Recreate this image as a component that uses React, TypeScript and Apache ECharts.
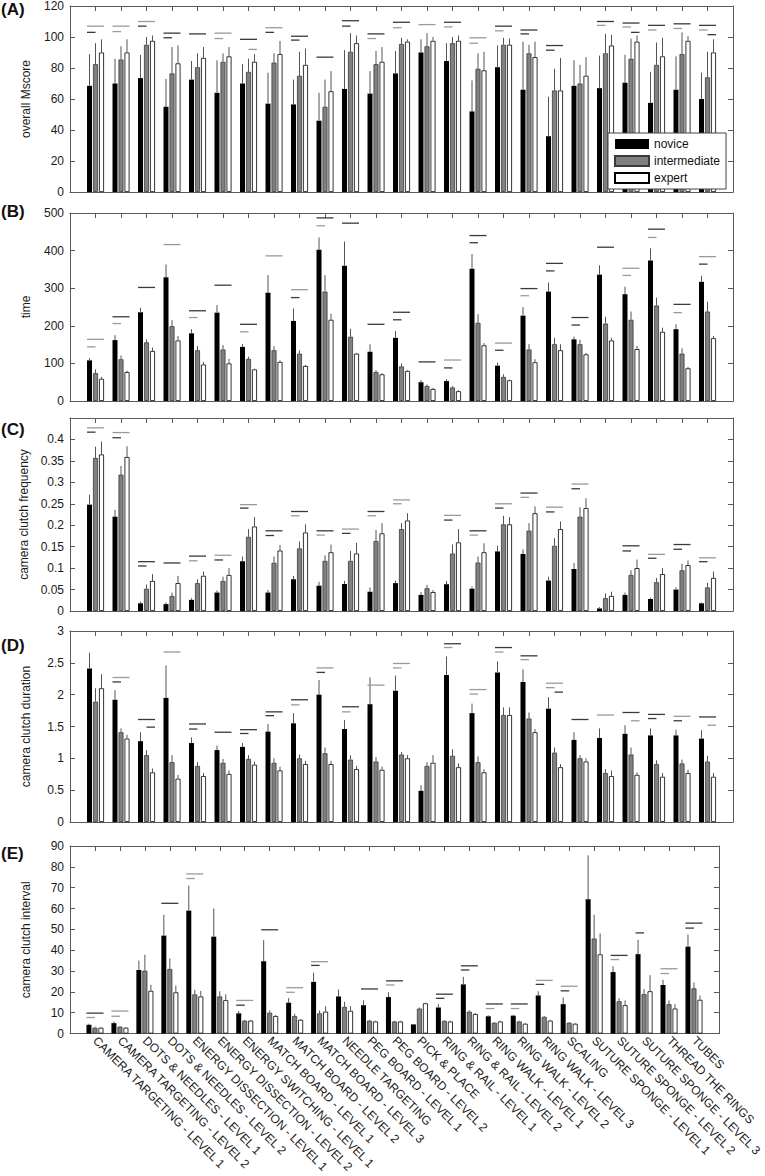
import React, { useEffect, useRef } from 'react';
import * as echarts from 'echarts';

const categories = [
  'CAMERA TARGETING - LEVEL 1', 'CAMERA TARGETING - LEVEL 2', 'DOTS & NEEDLES - LEVEL 1', 'DOTS & NEEDLES - LEVEL 2',
  'ENERGY DISSECTION - LEVEL 1', 'ENERGY DISSECTION - LEVEL 2', 'ENERGY SWITCHING - LEVEL 1', 'MATCH BOARD - LEVEL 1',
  'MATCH BOARD - LEVEL 2', 'MATCH BOARD - LEVEL 3', 'NEEDLE TARGETING', 'PEG BOARD - LEVEL 1', 'PEG BOARD - LEVEL 2',
  'PICK & PLACE', 'RING & RAIL - LEVEL 1', 'RING & RAIL - LEVEL 2', 'RING WALK - LEVEL 1', 'RING WALK - LEVEL 2',
  'RING WALK - LEVEL 3', 'SCALING', 'SUTURE SPONGE - LEVEL 1', 'SUTURE SPONGE - LEVEL 2', 'SUTURE SPONGE - LEVEL 3',
  'THREAD THE RINGS', 'TUBES',
];
const seriesNames = ['novice', 'intermediate', 'expert'];

// (A) overall Mscore
const A_N = [68.5, 70, 73.5, 55, 72.5, 64, 70, 57, 56.5, 46, 66.5, 63.5, 76.5, 90, 84.5, 52, 80.5, 66, 36, 68.5, 67, 70.5, 57.5, 66, 60];
const A_Ne = [89, 86, 88.5, 73, 84.5, 85, 82.5, 77, 72.5, 64, 91.5, 78, 91, 98.5, 96, 72, 94.5, 97, 61.5, 85, 88, 88.5, 77.5, 87.5, 77];
const A_I = [82.5, 85.5, 95, 76.5, 80.5, 84, 77.5, 83.5, 75, 55, 90.5, 82.5, 95.5, 94, 96, 79.5, 95, 89.5, 65.5, 70, 89.5, 86, 82, 89, 74];
const A_Ie = [96, 94, 100, 93.5, 89.5, 89.5, 86, 89.5, 90.5, 72.5, 102.5, 91, 99.5, 102.5, 100, 89.5, 99.5, 95, 79.5, 82, 102, 99, 96.5, 103, 90.5];
const A_E = [90, 90, 97.5, 83, 86.5, 87.5, 84, 89, 82, 65, 96, 84, 97, 97.5, 97.5, 78.5, 95, 87, 65.5, 75, 94.5, 97, 87.5, 97.5, 90];
const A_Ee = [98.5, 98.5, 101, 94.5, 93.5, 93.5, 89, 97.5, 92.5, 78, 101, 93.5, 98.5, 100, 101, 90.5, 99, 97, 86.5, 87, 101.5, 101, 99.5, 100.5, 98.5];
// significance bars: [category (1-based), y, kind (0 all, 1 novice-intermediate, 2 intermediate-expert), dark]
const A_SIG = [
  [1, 107, 0, 0], [1, 103, 1, 1], [2, 107, 0, 0], [2, 103.5, 1, 0], [3, 110, 0, 0], [3, 107, 1, 1],
  [4, 102.5, 0, 1], [4, 99.5, 1, 1], [5, 102, 0, 1], [6, 102.5, 0, 0], [6, 99, 1, 0], [7, 98.5, 0, 1], [7, 92, 2, 0],
  [8, 106, 0, 0], [8, 103, 1, 1], [9, 100.5, 0, 1], [9, 98, 1, 1], [10, 87, 0, 1], [11, 110.5, 0, 1], [11, 107, 1, 1],
  [12, 102, 0, 1], [12, 99, 1, 0], [13, 109.5, 0, 1], [13, 106, 1, 0], [14, 108, 0, 0], [15, 109.5, 0, 1], [15, 106.5, 1, 0],
  [16, 99.5, 0, 0], [16, 96, 1, 0], [17, 107, 0, 1], [17, 104, 1, 0], [18, 104.5, 0, 1], [18, 102, 1, 1],
  [19, 94.5, 0, 1], [19, 91.5, 1, 1], [21, 110, 0, 1], [21, 107.5, 1, 0], [22, 109, 0, 1], [22, 106.5, 1, 0], [22, 103, 2, 1],
  [23, 107.5, 0, 1], [23, 104.5, 1, 0], [24, 108.5, 0, 1], [24, 105.5, 1, 0], [25, 107.5, 0, 1], [25, 104.5, 1, 0], [25, 101.5, 2, 1],
];

// (B) time
const B_N = [108, 162, 236, 329, 180, 235, 144, 288, 213, 402, 360, 131, 168, 50, 53, 352, 94, 227, 291, 164, 336, 284, 374, 191, 317];
const B_Ne = [114, 175, 248, 363, 191, 255, 152, 335, 246, 435, 424, 151, 186, 56, 58, 391, 102, 250, 315, 171, 361, 304, 406, 204, 333];
const B_I = [74, 111, 156, 199, 135, 137, 112, 135, 126, 291, 171, 77, 92, 40, 36, 208, 64, 137, 151, 151, 206, 216, 254, 126, 238];
const B_Ie = [84, 121, 164, 215, 146, 149, 118, 146, 135, 335, 192, 82, 100, 44, 40, 231, 71, 151, 168, 163, 224, 238, 275, 140, 264];
const B_E = [59, 77, 133, 161, 97, 100, 84, 104, 93, 216, 126, 71, 80, 32, 26, 148, 55, 103, 135, 124, 161, 138, 184, 87, 167];
const B_Ee = [64, 81, 142, 173, 104, 112, 86, 108, 96, 232, 128, 74, 82, 35, 29, 154, 57, 111, 151, 128, 168, 146, 195, 91, 173];
const B_SIG = [
  [1, 164, 0, 0], [1, 144, 1, 0], [2, 224, 0, 1], [2, 206, 1, 0], [3, 302, 0, 1], [4, 416, 0, 0], [5, 240, 0, 1], [5, 222, 1, 0],
  [6, 308, 0, 1], [7, 204, 0, 1], [7, 184, 1, 0], [8, 386, 0, 0], [9, 296, 0, 0], [9, 275, 1, 1], [10, 487, 0, 1], [10, 466, 1, 0],
  [11, 473, 0, 1], [12, 204, 0, 1], [13, 236, 0, 1], [13, 216, 1, 1], [14, 104, 0, 1], [15, 109, 0, 0], [15, 88, 1, 1],
  [16, 440, 0, 1], [16, 421, 1, 1], [17, 154, 0, 0], [17, 135, 1, 1], [18, 299, 0, 1], [18, 280, 1, 0], [19, 366, 0, 1], [19, 346, 1, 1],
  [20, 222, 0, 1], [20, 202, 1, 1], [21, 409, 0, 1], [22, 353, 0, 0], [22, 334, 1, 0], [23, 457, 0, 1], [23, 435, 1, 0],
  [24, 257, 0, 1], [24, 235, 1, 0], [25, 384, 0, 0], [25, 364, 1, 1],
];

// (C) camera clutch frequency
const C_N = [0.248, 0.22, 0.018, 0.016, 0.026, 0.043, 0.116, 0.043, 0.074, 0.059, 0.063, 0.045, 0.065, 0.0375, 0.0625, 0.052, 0.139, 0.133, 0.071, 0.098, 0.006, 0.0375, 0.028, 0.05, 0.018];
const C_Ne = [0.271, 0.236, 0.022, 0.02, 0.03, 0.048, 0.127, 0.049, 0.082, 0.068, 0.07, 0.055, 0.071, 0.044, 0.07, 0.057, 0.152, 0.144, 0.08, 0.112, 0.009, 0.043, 0.031, 0.055, 0.02];
const C_I = [0.357, 0.318, 0.052, 0.035, 0.065, 0.07, 0.173, 0.1125, 0.146, 0.117, 0.117, 0.163, 0.191, 0.053, 0.134, 0.113, 0.202, 0.1875, 0.152, 0.22, 0.03, 0.084, 0.067, 0.095, 0.055];
const C_Ie = [0.383, 0.338, 0.062, 0.043, 0.074, 0.08, 0.191, 0.127, 0.162, 0.13, 0.14, 0.189, 0.205, 0.061, 0.155, 0.127, 0.222, 0.205, 0.17, 0.242, 0.041, 0.095, 0.077, 0.11, 0.066];
const C_E = [0.365, 0.359, 0.07, 0.065, 0.082, 0.084, 0.197, 0.141, 0.183, 0.137, 0.134, 0.181, 0.211, 0.044, 0.16, 0.137, 0.202, 0.228, 0.191, 0.24, 0.035, 0.1, 0.086, 0.107, 0.077];
const C_Ee = [0.395, 0.384, 0.086, 0.082, 0.092, 0.1, 0.219, 0.154, 0.202, 0.155, 0.159, 0.205, 0.228, 0.049, 0.191, 0.158, 0.219, 0.244, 0.209, 0.263, 0.045, 0.12, 0.1, 0.118, 0.092];
const C_SIG = [
  [1, 0.427, 0, 0], [1, 0.417, 1, 1], [2, 0.416, 0, 0], [2, 0.404, 1, 1], [3, 0.115, 0, 1], [3, 0.105, 1, 1], [4, 0.112, 0, 1],
  [5, 0.128, 0, 1], [5, 0.117, 1, 0], [6, 0.13, 0, 0], [6, 0.119, 1, 1], [7, 0.248, 0, 0], [7, 0.24, 1, 1],
  [8, 0.187, 0, 1], [8, 0.176, 1, 1], [9, 0.232, 0, 1], [9, 0.222, 1, 0], [10, 0.187, 0, 1], [10, 0.177, 1, 0],
  [11, 0.191, 0, 0], [11, 0.181, 1, 1], [12, 0.232, 0, 1], [12, 0.222, 1, 0], [13, 0.259, 0, 0], [13, 0.25, 1, 0],
  [15, 0.223, 0, 0], [15, 0.212, 1, 1], [16, 0.187, 0, 1], [16, 0.177, 1, 0], [17, 0.25, 0, 0], [17, 0.24, 1, 1],
  [18, 0.275, 0, 1], [18, 0.265, 1, 0], [19, 0.242, 0, 0], [19, 0.231, 1, 1], [20, 0.296, 0, 0], [20, 0.285, 1, 1],
  [22, 0.152, 0, 1], [22, 0.14, 1, 1], [23, 0.132, 0, 0], [23, 0.123, 1, 1], [24, 0.155, 0, 1], [24, 0.144, 1, 1],
  [25, 0.124, 0, 0], [25, 0.115, 1, 1],
];

// (D) camera clutch duration
const D_N = [2.41, 1.92, 1.27, 1.95, 1.24, 1.13, 1.18, 1.42, 1.55, 2.0, 1.46, 1.85, 2.06, 0.49, 2.31, 1.71, 2.35, 2.2, 1.78, 1.29, 1.32, 1.385, 1.36, 1.36, 1.31];
const D_Ne = [2.66, 2.07, 1.41, 2.46, 1.33, 1.2, 1.24, 1.54, 1.71, 2.23, 1.6, 2.27, 2.3, 0.58, 2.6, 1.86, 2.52, 2.4, 1.96, 1.41, 1.47, 1.52, 1.47, 1.45, 1.44];
const D_I = [1.89, 1.41, 1.05, 0.94, 0.88, 0.93, 0.99, 0.93, 1.0, 1.08, 0.98, 0.95, 1.06, 0.88, 1.04, 0.94, 1.68, 1.625, 1.09, 1.0, 0.77, 1.06, 0.91, 0.92, 0.95];
const D_Ie = [2.1, 1.47, 1.13, 1.05, 0.94, 0.99, 1.05, 1.0, 1.06, 1.17, 1.05, 1.02, 1.1, 0.94, 1.14, 1.03, 1.8, 1.72, 1.17, 1.05, 0.83, 1.17, 0.97, 0.98, 1.04];
const D_E = [2.1, 1.31, 0.78, 0.68, 0.72, 0.755, 0.9, 0.81, 0.91, 0.91, 0.83, 0.82, 1.0, 0.93, 0.86, 0.78, 1.68, 1.41, 0.86, 0.95, 0.72, 0.74, 0.71, 0.77, 0.71];
const D_Ee = [2.32, 1.37, 0.84, 0.74, 0.77, 0.81, 0.95, 0.87, 0.96, 0.96, 0.88, 0.87, 1.05, 1.05, 0.92, 0.83, 1.8, 1.46, 0.91, 1.0, 0.81, 0.78, 0.77, 0.82, 0.77];
const D_SIG = [
  [2, 2.27, 0, 0], [2, 2.2, 1, 1], [3, 1.61, 0, 1], [3, 1.49, 2, 1], [4, 2.67, 0, 0], [5, 1.54, 0, 1], [5, 1.46, 1, 1],
  [6, 1.41, 0, 1], [7, 1.45, 0, 1], [7, 1.39, 1, 1], [8, 1.73, 0, 1], [8, 1.67, 1, 1], [9, 1.92, 0, 1], [9, 1.84, 1, 0],
  [10, 2.42, 0, 0], [10, 2.35, 1, 1], [11, 1.81, 0, 1], [11, 1.73, 1, 0], [12, 2.15, 0, 0], [13, 2.49, 0, 0], [13, 2.42, 1, 0],
  [15, 2.8, 0, 1], [15, 2.74, 1, 0], [16, 2.08, 0, 0], [16, 2.01, 1, 0], [17, 2.74, 0, 1], [17, 2.67, 1, 0],
  [18, 2.61, 0, 1], [18, 2.55, 1, 0], [19, 2.18, 0, 0], [19, 2.11, 1, 0], [19, 2.04, 2, 1], [20, 1.61, 0, 1], [21, 1.68, 0, 0],
  [22, 1.72, 0, 1], [22, 1.59, 2, 0], [23, 1.69, 0, 1], [23, 1.625, 1, 1], [24, 1.66, 0, 0], [24, 1.59, 1, 1],
  [25, 1.65, 0, 1], [25, 1.52, 2, 0],
];

// (E) camera clutch interval
const E_N = [4.2, 5, 30.5, 47, 59, 46.5, 9.7, 34.7, 14.8, 24.8, 17.8, 13.6, 17.5, 4.4, 12.5, 23.6, 8.3, 8.6, 18.3, 14.1, 64.4, 29.5, 38.1, 23.3, 41.7];
const E_Ne = [4.7, 5.8, 35, 57, 71, 60, 10.8, 44.8, 17, 29.2, 21.1, 15.9, 19.8, 4.6, 14.1, 27.2, 8.8, 9, 20.3, 17.3, 85.5, 32.3, 45, 25.8, 47.5];
const E_I = [2.8, 3.3, 30.2, 31, 18.8, 17.8, 6.2, 10, 8.4, 9.7, 12.8, 6.2, 5.8, 12, 6.1, 10.5, 5.2, 5.8, 8, 5.2, 45.6, 15.5, 18.9, 14.1, 21.7];
const E_Ie = [3.3, 3.6, 37.8, 36, 21, 20.3, 6.6, 11.1, 9.5, 11.1, 15.2, 6.6, 6.2, 12.5, 6.4, 11.2, 5.5, 6.2, 8.5, 5.5, 57, 17, 21.4, 15.9, 24.5];
const E_E = [2.8, 2.8, 20.5, 19.8, 17.8, 16, 6.2, 8.4, 6.6, 10.5, 10.9, 5.8, 5.8, 14.5, 5.8, 9.4, 5.8, 4.7, 6.2, 4.7, 38, 13.6, 20.3, 12, 16.2];
const E_Ee = [3.1, 3.1, 23.4, 23, 20.5, 18.8, 6.6, 8.9, 7, 13.1, 13.1, 6.2, 6.2, 14.8, 6.2, 9.8, 6.2, 5.1, 6.6, 5.1, 48, 15.9, 28, 14.1, 18.3];
const E_SIG = [
  [1, 9.8, 0, 1], [1, 7.7, 1, 0], [2, 10.8, 0, 0], [2, 8.3, 1, 0], [4, 62.5, 0, 1], [5, 76.6, 0, 0], [5, 74.4, 1, 0],
  [7, 15.9, 0, 0], [7, 13.6, 1, 1], [8, 49.8, 0, 1], [9, 22, 0, 0], [9, 19.8, 1, 0], [10, 34.5, 0, 0], [10, 32.7, 1, 1],
  [12, 21.4, 0, 1], [13, 25.3, 0, 1], [13, 23.3, 1, 0], [15, 18.9, 0, 1], [15, 16.9, 1, 1], [16, 32.5, 0, 1], [16, 30.5, 1, 1],
  [17, 14.2, 0, 1], [17, 12, 1, 0], [18, 14.2, 0, 1], [18, 12, 1, 0], [19, 25.5, 0, 0], [19, 23.6, 1, 1],
  [20, 22.7, 0, 0], [20, 20.5, 1, 1], [22, 37.5, 0, 1], [22, 35.5, 1, 0], [23, 48.3, 1, 1], [24, 31.1, 0, 0], [24, 28.8, 1, 0],
  [25, 53, 0, 1], [25, 50.6, 1, 1],
];

const FONT = 'Liberation Sans, Arial, Helvetica, sans-serif';

const panels = [
  { letter: '(A)', name: 'overall Mscore', max: 120, interval: 20, top: 5, height: 187, letterTop: 1, vals: [A_N, A_I, A_E], errs: [A_Ne, A_Ie, A_Ee], sig: A_SIG },
  { letter: '(B)', name: 'time', max: 500, interval: 100, top: 213, height: 188, letterTop: 203, vals: [B_N, B_I, B_E], errs: [B_Ne, B_Ie, B_Ee], sig: B_SIG },
  { letter: '(C)', name: 'camera clutch frequency', max: 0.45, interval: 0.05, top: 418, height: 193, letterTop: 421, vals: [C_N, C_I, C_E], errs: [C_Ne, C_Ie, C_Ee], sig: C_SIG },
  { letter: '(D)', name: 'camera clutch duration', max: 3, interval: 0.5, top: 631, height: 191, letterTop: 637, vals: [D_N, D_I, D_E], errs: [D_Ne, D_Ie, D_Ee], sig: D_SIG },
  { letter: '(E)', name: 'camera clutch interval', max: 90, interval: 10, top: 846, height: 191, letterTop: 845, vals: [E_N, E_I, E_E], errs: [E_Ne, E_Ie, E_Ee], sig: E_SIG },
];

const barStyles = [
  { color: '#000000', borderColor: '#000000', borderWidth: 0 },
  { color: '#808080', borderColor: '#3a3a3a', borderWidth: 0.8 },
  { color: '#ffffff', borderColor: '#000000', borderWidth: 0.8 },
];

const AXIS_COLOR = '#5a5a5a';

function buildOption() {
  const cats = ['', ...categories, ''];
  const grid: any[] = [];
  const xAxis: any[] = [];
  const yAxis: any[] = [];
  const series: any[] = [];
  const graphic: any[] = [];

  panels.forEach((p, i) => {
    grid.push({ left: 70, right: 32, top: p.top, height: p.height });
    const isLast = i === panels.length - 1;
    const xBase = {
      type: 'category', gridIndex: i, data: cats, boundaryGap: false,
      axisLine: { show: true, onZero: false, lineStyle: { color: AXIS_COLOR, width: 1 } },
      axisTick: { show: true, inside: true, length: 5, interval: 0, lineStyle: { color: AXIS_COLOR } },
      splitLine: { show: false },
    };
    xAxis.push({
      ...xBase, position: 'bottom',
      axisLabel: {
        show: isLast, interval: 0, rotate: -45, fontSize: 12, color: '#1a1a1a', fontFamily: FONT, margin: 5,
      },
    });
    xAxis.push({ ...xBase, position: 'top', axisLabel: { show: false } });
    const yBase = {
      type: 'value', gridIndex: i, min: 0, max: p.max, interval: p.interval,
      axisLine: { show: true, lineStyle: { color: AXIS_COLOR, width: 1 } },
      axisTick: { show: true, inside: true, length: 5, lineStyle: { color: AXIS_COLOR } },
      splitLine: { show: false },
    };
    yAxis.push({
      ...yBase, position: 'left',
      name: p.name, nameLocation: 'middle', nameGap: 38,
      nameTextStyle: { fontSize: 12, color: '#1a1a1a', fontFamily: FONT },
      axisLabel: {
        fontSize: 12, color: '#1a1a1a', fontFamily: FONT, margin: 6,
        formatter: (v: number) => (v > p.max - p.interval / 2 && p.max === 0.45 ? '' : String(+v.toFixed(2))),
      },
    });
    yAxis.push({ ...yBase, position: 'right', axisLabel: { show: false } });

    const xi = i * 2;
    const yi = i * 2;
    p.vals.forEach((vals, k) => {
      series.push({
        type: 'bar', name: seriesNames[k], xAxisIndex: xi, yAxisIndex: yi,
        data: vals.map((v, j) => [j + 1, v]),
        barWidth: 5, barGap: '20%',
        itemStyle: barStyles[k],
        z: 2,
      });
    });

    const errData: any[] = [];
    p.vals.forEach((vals, k) => {
      vals.forEach((v, j) => errData.push([j + 1, v, p.errs[k][j], k]));
    });
    series.push({
      type: 'custom', xAxisIndex: xi, yAxisIndex: yi, data: errData, z: 3, silent: true,
      encode: { x: 0, y: [1, 2] },
      renderItem: (params: any, api: any) => {
        const c = api.value(0);
        const a = api.coord([c, api.value(1)]);
        const b = api.coord([c, api.value(2)]);
        const off = (api.value(3) - 1) * 6;
        return {
          type: 'line',
          shape: { x1: a[0] + off, y1: a[1], x2: a[0] + off, y2: b[1] },
          style: { stroke: '#555555', lineWidth: 1 },
        };
      },
    });

    series.push({
      type: 'custom', xAxisIndex: xi, yAxisIndex: yi, data: p.sig, z: 3, silent: true,
      encode: { x: 0, y: 1 },
      renderItem: (params: any, api: any) => {
        const c = api.coord([api.value(0), api.value(1)]);
        const kind = api.value(2);
        const x1 = kind === 2 ? c[0] : c[0] - 8.5;
        const x2 = kind === 1 ? c[0] : c[0] + 8.5;
        return {
          type: 'line',
          shape: { x1, y1: c[1], x2, y2: c[1] },
          style: { stroke: api.value(3) ? '#3a3a3a' : '#9a9a9a', lineWidth: 1.3 },
        };
      },
    });

    graphic.push({
      type: 'text', left: 1, top: p.letterTop,
      style: { text: p.letter, font: `bold 17px ${FONT}`, fill: '#111' },
    });
  });

  return {
    animation: false,
    backgroundColor: '#ffffff',
    textStyle: { fontFamily: FONT },
    grid, xAxis, yAxis, series, graphic,
    legend: {
      data: seriesNames, orient: 'vertical', left: 608, top: 133,
      itemWidth: 34, itemHeight: 10, itemGap: 5, padding: [5, 6, 5, 6],
      backgroundColor: '#ffffff', borderColor: '#444444', borderWidth: 1, borderRadius: 0,
      icon: 'rect', selectedMode: false,
      textStyle: { fontSize: 12, color: '#111', fontFamily: FONT },
      z: 10,
    },
  };
}

export default function App() {
  const ref = useRef<HTMLDivElement>(null);
  useEffect(() => {
    if (!ref.current) return;
    const chart = echarts.init(ref.current, undefined, { renderer: 'svg' });
    chart.setOption(buildOption() as any);
    return () => chart.dispose();
  }, []);
  return (
    <div
      ref={ref}
      style={{ position: 'absolute', left: 0, top: 0, width: 765, height: 1176, background: '#fff' }}
    />
  );
}
